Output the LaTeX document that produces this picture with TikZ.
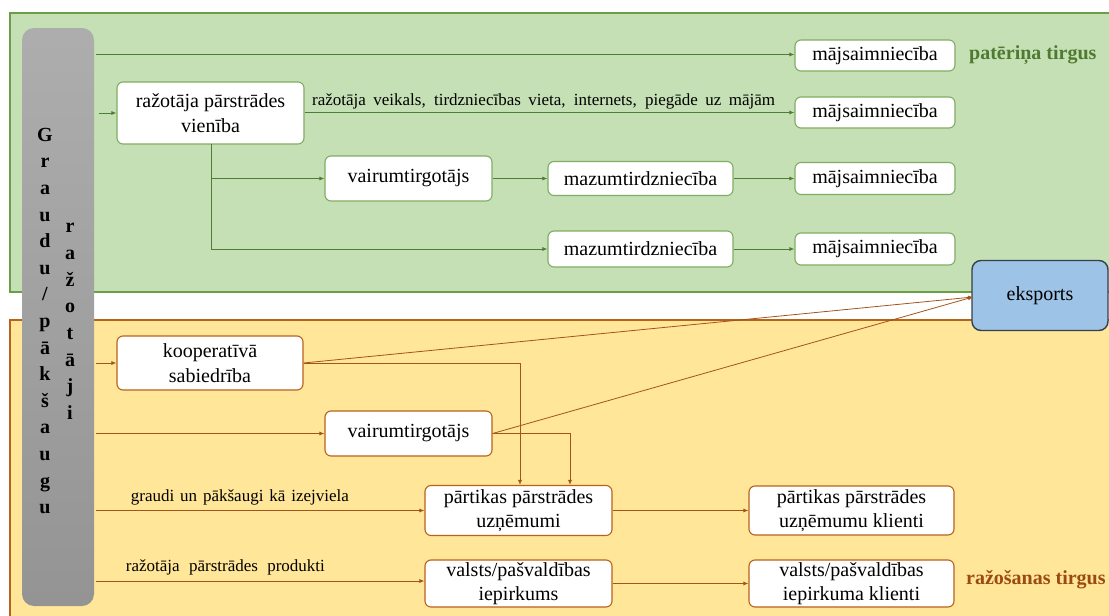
\documentclass[tikz,border=0pt]{standalone}
\usepackage{fontspec}
\setmainfont{Liberation Serif}
\usetikzlibrary{arrows.meta}
\definecolor{gfill}{HTML}{C5E0B4}
\definecolor{gline}{HTML}{6A9E48}
\definecolor{garrow}{HTML}{507D36}
\definecolor{ofill}{HTML}{FFE699}
\definecolor{oline}{HTML}{B8621B}
\definecolor{oarrow}{HTML}{A2541A}
\definecolor{otext}{HTML}{9A4A12}
\definecolor{gtext}{HTML}{4E7A32}
\definecolor{bfill}{HTML}{9DC3E6}
\definecolor{bline}{HTML}{37404A}
\begin{document}
\begin{tikzpicture}[x=1pt,y=-1pt,
  box/.style={draw, fill=white, rounded corners=6pt, line width=1.1pt, inner sep=0pt,
    align=center, font=\fontsize{20}{24.5}\selectfont},
  gbox/.style={box, draw=gline!85},
  obox/.style={box, draw=oline},
  garr/.style={draw=garrow, line width=0.8pt, -{Latex[length=5pt,width=4pt]}},
  oarr/.style={draw=oarrow, line width=0.8pt, -{Latex[length=5pt,width=4pt]}},
  lbl/.style={font=\fontsize{17}{19}\selectfont, inner sep=0pt},
  barletters/.style={font=\fontsize{20}{20}\selectfont\bfseries, align=center, inner sep=0pt},
]
\useasboundingbox (0,0) rectangle (1109,616);
% regions
\path[fill=gfill, draw=gline, line width=1.2pt] (10,13) rectangle (1115,292);
\path[fill=ofill, draw=oline, line width=1.2pt] (10,320) rectangle (1115,625);
% grey bar
\node[draw=none, rounded corners=12pt, top color=black!32, bottom color=black!42,
  minimum width=72pt, minimum height=578pt, inner sep=0pt] (bar) at (58,317) {};
\node[barletters, execute at begin node={\setlength{\baselineskip}{26.6pt}}] (col1) at (45,321)
  {G\\r\\a\\u\\d\\u\\/\\p\\ā\\k\\š\\a\\u\\g\\u};
\node[barletters, execute at begin node={\setlength{\baselineskip}{26.7pt}}] (col2) at (70,321.5)
  {r\\a\\ž\\o\\t\\ā\\j\\i};
% green nodes
\node[gbox, minimum width=160pt, minimum height=31pt] (m1) at (875,55.5) {mājsaimniecība};
\node[gbox, minimum width=187pt, minimum height=62pt] (prv) at (210.5,113) {ražotāja pārstrādes\\vienība};
\node[gbox, minimum width=160pt, minimum height=31pt] (m2) at (875,112.5) {mājsaimniecība};
\node[gbox, minimum width=167pt, minimum height=45pt] (vt1) at (408.5,178.5) {vairumtirgotājs};
\node[gbox, minimum width=185pt, minimum height=34pt] (mz1) at (640.5,178.5) {mazumtirdzniecība};
\node[gbox, minimum width=160pt, minimum height=32pt] (m3) at (875,178.5) {mājsaimniecība};
\node[gbox, minimum width=185pt, minimum height=36pt] (mz2) at (640.5,249) {mazumtirdzniecība};
\node[gbox, minimum width=160pt, minimum height=32pt] (m4) at (875,249) {mājsaimniecība};
\node[font=\fontsize{20}{20}\selectfont\bfseries, text=gtext, anchor=west, inner sep=0pt] (pt) at (969,55.5) {patēriņa tirgus};
% orange nodes
\node[obox, minimum width=186pt, minimum height=54pt] (koop) at (210,363) {kooperatīvā\\sabiedrība};
\node[obox, minimum width=167pt, minimum height=45pt] (vt2) at (408.5,433.5) {vairumtirgotājs};
\node[obox, minimum width=187pt, minimum height=50pt] (pp) at (518.5,510.5) {pārtikas pārstrādes\\uzņēmumi};
\node[obox, minimum width=205pt, minimum height=49pt] (ppk) at (851.5,510.5) {pārtikas pārstrādes\\uzņēmumu klienti};
\node[obox, minimum width=187pt, minimum height=47pt] (vp) at (518.5,583.5) {valsts/pašvaldības\\iepirkums};
\node[obox, minimum width=205pt, minimum height=47pt] (vpk) at (851.5,583.5) {valsts/pašvaldības\\iepirkuma klienti};
\node[font=\fontsize{20}{20}\selectfont\bfseries, text=otext, anchor=west, inner sep=0pt] (rt) at (966,580) {ražošanas tirgus};
% eksports
\node[box, draw=bline, fill=bfill, line width=1.4pt, rounded corners=9pt,
  minimum width=136pt, minimum height=70pt] (eks) at (1040,295.5) {eksports};
\coordinate (ein) at (973,297);
% green connectors
\coordinate (g1) at (96,54.5);
\draw[garr] (g1) -- (g1 -| m1.west);
\coordinate (g2) at (99,113);
\draw[garr] (g2) -- (prv.west);
\draw[garr] (prv.east |- m2.west) -- node[lbl, above=2.5pt, pos=0.488] (l1) {\makebox[463pt][s]{ražotāja veikals, tirdzniecības vieta, internets, piegāde uz mājām}} (m2.west);
\coordinate (br) at (211,144);
\draw[draw=garrow, line width=0.8pt] (br) -- (br |- mz2.west);
\draw[garr] (br |- vt1.west) -- (vt1.west);
\draw[garr] (br |- mz2.west) -- (mz2.west);
\draw[garr] (vt1.east) -- (mz1.west);
\draw[garr] (mz1.east) -- (m3.west);
\draw[garr] (mz2.east) -- (m4.west);
% orange connectors
\coordinate (o1) at (96,363);
\draw[oarr] (o1) -- (koop.west);
\coordinate (o2) at (96,433.5);
\draw[oarr] (o2) -- (vt2.west);
\coordinate (o3) at (96,510.5);
\draw[oarr] (o3) -- node[lbl, above=5pt, pos=0.438] (l2) {\makebox[218pt][s]{graudi un pākšaugi kā izejviela}} (o3 -| pp.west);
\coordinate (o4) at (96,581);
\draw[oarr] (o4) -- node[lbl, above=5pt, pos=0.394] (l3) {\makebox[199pt][s]{ražotāja pārstrādes produkti}} (o4 -| vp.west);
\draw[oarr] (koop.east) -- (ein);
\draw[oarr] (vt2.east) -- (ein);
\draw[oarr] (koop.east) -| ([xshift=1.5pt]pp.north);
\draw[oarr] (vt2.east) -| ([xshift=51.5pt]pp.north);
\draw[oarr] (pp.east) -- (ppk.west);
\draw[oarr] (vp.east) -- (vpk.west);
\end{tikzpicture}
\end{document}
